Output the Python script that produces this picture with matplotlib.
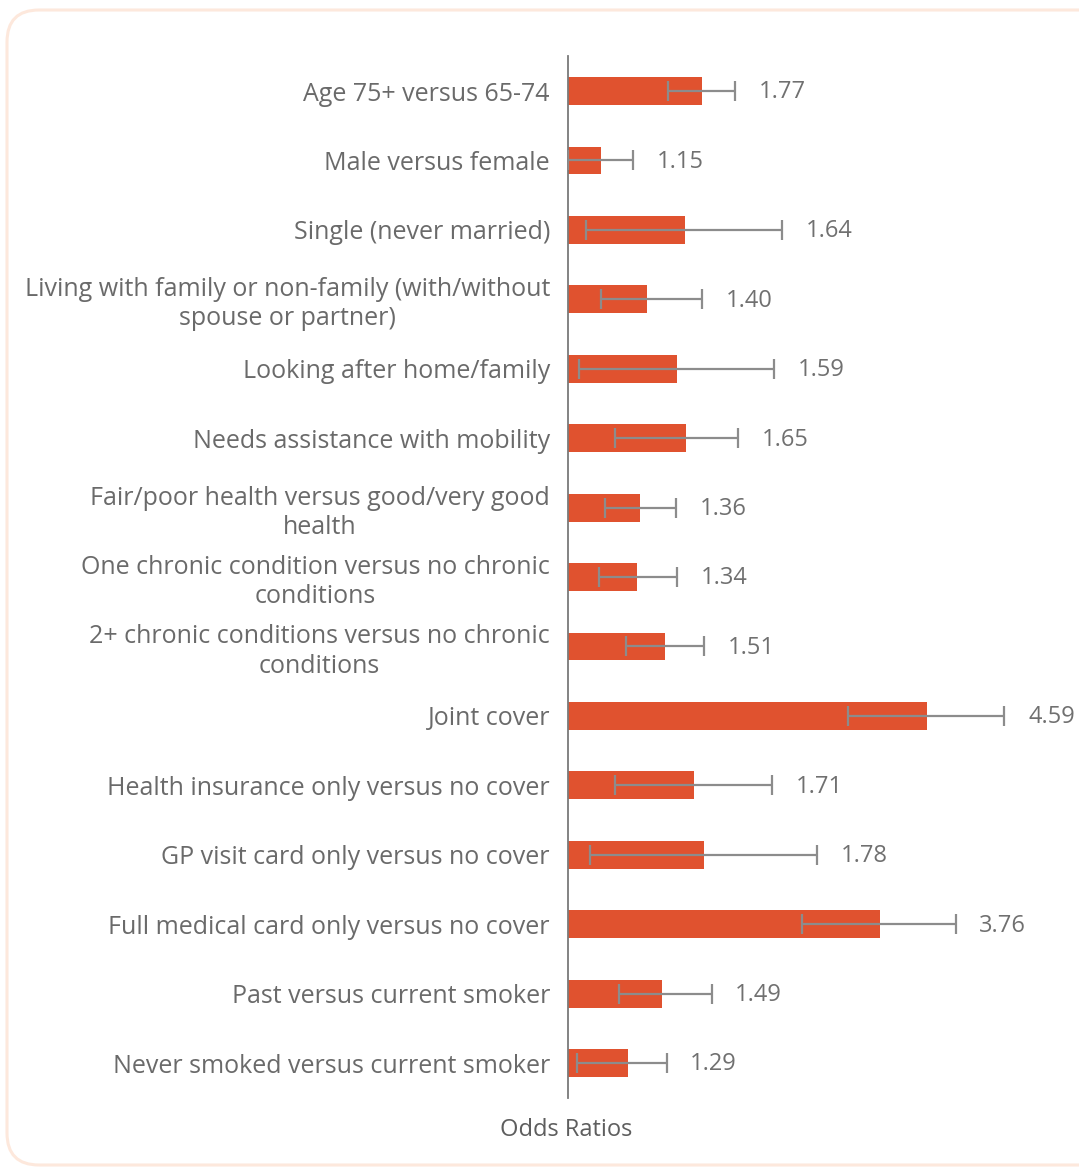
import numpy as np
import matplotlib
matplotlib.use("Agg")
import matplotlib.pyplot as plt
from matplotlib.patches import FancyBboxPatch

categories = [
    "Age 75+ versus 65-74",
    "Male versus female",
    "Single (never married)",
    "Living with family or non-family (with/without\nspouse or partner)",
    "Looking after home/family",
    "Needs assistance with mobility",
    "Fair/poor health versus good/very good\nhealth",
    "One chronic condition versus no chronic\nconditions",
    "2+ chronic conditions versus no chronic\nconditions",
    "Joint cover",
    "Health insurance only versus no cover",
    "GP visit card only versus no cover",
    "Full medical card only versus no cover",
    "Past versus current smoker",
    "Never smoked versus current smoker",
]
odds_ratios = [1.77, 1.15, 1.64, 1.40, 1.59, 1.65, 1.36, 1.34, 1.51, 4.59, 1.71, 1.78, 3.76, 1.49, 1.29]
ci_lower = [1.53, 1.00, 1.08, 1.15, 1.05, 1.22, 1.17, 1.14, 1.28, 3.28, 1.22, 1.10, 2.70, 1.24, 1.04]
ci_upper = [2.03, 1.32, 2.48, 1.77, 2.40, 2.06, 1.58, 1.59, 1.78, 6.38, 2.38, 2.88, 5.19, 1.84, 1.52]
value_labels = ["1.77", "1.15", "1.64", "1.40", "1.59", "1.65", "1.36", "1.34", "1.51",
                "4.59", "1.71", "1.78", "3.76", "1.49", "1.29"]
x_label = "Odds Ratios"

plt.rcParams['font.family'] = ['Open Sans', 'DejaVu Sans']

W, H = 1079, 1169
fig = plt.figure(figsize=(W / 100, H / 100), dpi=100)
fig.patch.set_facecolor("white")

# rounded border
border = FancyBboxPatch((7 / 100, 4 / 100), 1110 / 100, 1155 / 100,
                        boxstyle="round,pad=0,rounding_size=0.32",
                        transform=fig.dpi_scale_trans, facecolor="none",
                        edgecolor="#fde8dc", linewidth=2.2, zorder=-5)
fig.patches.append(border)

ax_left_px = 568
ax_width_px = 480
k = 235.5  # px per ln unit
xmax = np.exp(ax_width_px / k)
top_px, bottom_px = 56.3, 1097.8
ax = fig.add_axes([ax_left_px / W, 1 - bottom_px / H, ax_width_px / W, (bottom_px - top_px) / H])
ax.set_facecolor("none")

y = np.arange(len(categories))
ors = np.array(odds_ratios)
lo = np.array(ci_lower)
hi = np.array(ci_upper)

ax.barh(y, ors - 1, left=1, height=0.4, color="#e0522f", zorder=2)
ax.errorbar(ors, y, xerr=[ors - lo, hi - ors], fmt="none", ecolor="#8c8c8c",
            elinewidth=1.6, capsize=7, capthick=1.6, zorder=3)

ax.set_xscale("log")
ax.set_xlim(1, xmax)
ax.set_ylim(len(categories) - 0.5, -0.5)

for yi, h, lab in zip(y, hi, value_labels):
    ax.annotate(lab, xy=(h, yi), xytext=(17, -1), textcoords="offset points",
                ha="left", va="center", fontsize=17, color="#707070")

ax.set_yticks(y)
ax.set_yticklabels(categories, fontsize=18, color="#6a6a6a", multialignment="center",
                   linespacing=1.22)
ax.tick_params(axis="y", length=0, pad=13)
ax.set_xticks([])
ax.xaxis.set_minor_locator(matplotlib.ticker.NullLocator())

for s in ["top", "right", "bottom"]:
    ax.spines[s].set_visible(False)
ax.spines["left"].set_color("#7a7a7a")
ax.spines["left"].set_linewidth(1.3)

fig.text(566 / W, 1 - 1130 / H, x_label, ha="center", va="center",
         fontsize=17, color="#5e5e5e")

fig.savefig("out.png", dpi=100)
